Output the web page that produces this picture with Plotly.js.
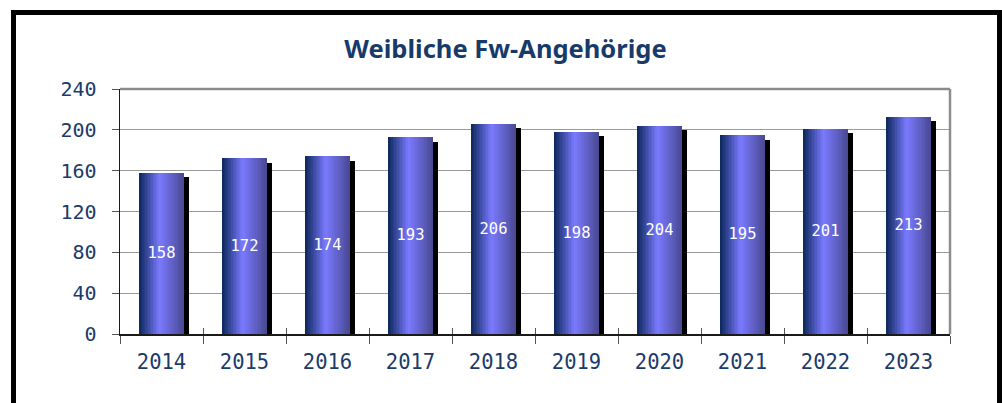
<!DOCTYPE html>
<html>
<head>
<meta charset="utf-8">
<script src="https://cdn.plot.ly/plotly-3.0.1.min.js"></script>
<style>
  html, body { margin: 0; padding: 0; background: #ffffff; }
  #wrap { position: relative; width: 1002px; height: 403px; overflow: hidden; }
  #chart { position: absolute; left: 0; top: 0; width: 1002px; height: 403px; }
  #frame { position: absolute; left: 11px; top: 10px; width: 981px; height: 420px;
           border: 5px solid #000; pointer-events: none; }
</style>
</head>
<body>
<div id="wrap">
  <div id="chart"></div>
  <div id="frame"></div>
</div>
<script>
// ---- data ----
const years = ['2014', '2015', '2016', '2017', '2018', '2019', '2020', '2021', '2022', '2023'];
const values = [158, 172, 174, 193, 206, 198, 204, 195, 201, 213];
const yTicks = [0, 40, 80, 120, 160, 200, 240];
const chartTitle = 'Weibliche Fw-Angehörige';

// ---- style ----
const BAR_W = 0.542;          // bar width in category units
const SH_DX = 0.062;          // shadow shift right (category units)
const SH_DY = 4.5;            // shadow shift down (value units)
const NSLICE = 30;
const stops = [
  [0.00, [12, 40, 92]],
  [0.45, [122, 122, 255]],
  [1.00, [72, 72, 146]]
];
function gradColor(t) {
  for (let k = 0; k < stops.length - 1; k++) {
    const [t0, c0] = stops[k], [t1, c1] = stops[k + 1];
    if (t >= t0 && t <= t1) {
      const f = (t - t0) / (t1 - t0);
      const c = c0.map((v, i) => Math.round(v + (c1[i] - v) * f));
      return 'rgb(' + c.join(',') + ')';
    }
  }
  return 'rgb(' + stops[stops.length - 1][1].join(',') + ')';
}

const traces = [];
// shadow
traces.push({
  type: 'bar', x: years, y: values.map(v => v - SH_DY),
  width: BAR_W, offset: -BAR_W / 2 + SH_DX,
  marker: { color: '#000000', line: { width: 0 } },
  hoverinfo: 'skip', showlegend: false
});
// gradient slices
for (let i = 0; i < NSLICE; i++) {
  const start = -BAR_W / 2 + i * BAR_W / NSLICE;
  traces.push({
    type: 'bar', x: years, y: values,
    width: BAR_W - i * BAR_W / NSLICE, offset: start,
    marker: { color: gradColor((i + 0.5) / NSLICE), line: { width: 0 } },
    hoverinfo: 'skip', showlegend: false
  });
}
// labels
traces.push({
  type: 'bar', x: years, y: values,
  width: BAR_W, offset: -BAR_W / 2,
  marker: { color: 'rgba(0,0,0,0)', line: { width: 0 } },
  text: values.map(String), textposition: 'inside', insidetextanchor: 'middle',
  textangle: 0, constraintext: 'none',
  textfont: { family: 'DejaVu Sans Mono, monospace', size: 15.5, color: '#ffffff' },
  hoverinfo: 'skip', showlegend: false
});
// dummy for inner x ticks
traces.push({
  type: 'scatter', mode: 'none', x: years, y: values, xaxis: 'x2',
  hoverinfo: 'skip', showlegend: false
});

const layout = {
  width: 1002, height: 403,
  margin: { l: 120, r: 52, t: 89, b: 69 },
  paper_bgcolor: '#ffffff', plot_bgcolor: '#ffffff',
  barmode: 'overlay', bargap: 0,
  showlegend: false,
  title: {
    text: '<b>' + chartTitle + '</b>',
    font: { family: 'Noto Sans, Open Sans, sans-serif', size: 25.5, color: '#173a69' },
    x: 0.5045, xanchor: 'center', xref: 'container',
    y: 1 - 49 / 403, yanchor: 'middle', yref: 'container'
  },
  xaxis: {
    type: 'category', categoryorder: 'array', categoryarray: years,
    range: [-0.5, years.length - 0.5],
    showgrid: false, zeroline: false,
    showline: true, linecolor: '#1a1a1a', linewidth: 1.5,
    ticks: 'outside', tickson: 'boundaries', ticklen: 8, tickwidth: 1, tickcolor: '#555555',
    tickfont: { family: 'DejaVu Sans Mono, monospace', size: 20.5, color: '#1b3b6b' },
    ticklabelstandoff: 9
  },
  xaxis2: {
    type: 'category', categoryorder: 'array', categoryarray: years,
    range: [-0.5, years.length - 0.5],
    overlaying: 'x', anchor: 'y', side: 'bottom',
    showgrid: false, zeroline: false, showline: false, showticklabels: false,
    ticks: 'inside', tickson: 'boundaries', ticklen: 6, tickwidth: 1, tickcolor: '#555555'
  },
  yaxis: {
    range: [0, 240], tickvals: yTicks, ticktext: yTicks.map(String),
    showgrid: true, gridcolor: '#9a9a9a', gridwidth: 1.2,
    zeroline: false,
    showline: true, linecolor: '#1a1a1a', linewidth: 1.5,
    ticks: 'outside', ticklen: 7, tickwidth: 1, tickcolor: '#555555',
    tickfont: { family: 'DejaVu Sans Mono, monospace', size: 20, color: '#1b3b6b' },
    ticklabelstandoff: 11
  },
  shapes: [
    { type: 'line', xref: 'paper', yref: 'paper', x0: 0, x1: 1, y0: 1, y1: 1,
      line: { color: '#8c8c8c', width: 2.5 } },
    { type: 'line', xref: 'paper', yref: 'paper', x0: 1, x1: 1, y0: 0, y1: 1,
      line: { color: '#8c8c8c', width: 2.5 } }
  ]
};

Plotly.newPlot('chart', traces, layout, { displayModeBar: false, staticPlot: true });
</script>
</body>
</html>
